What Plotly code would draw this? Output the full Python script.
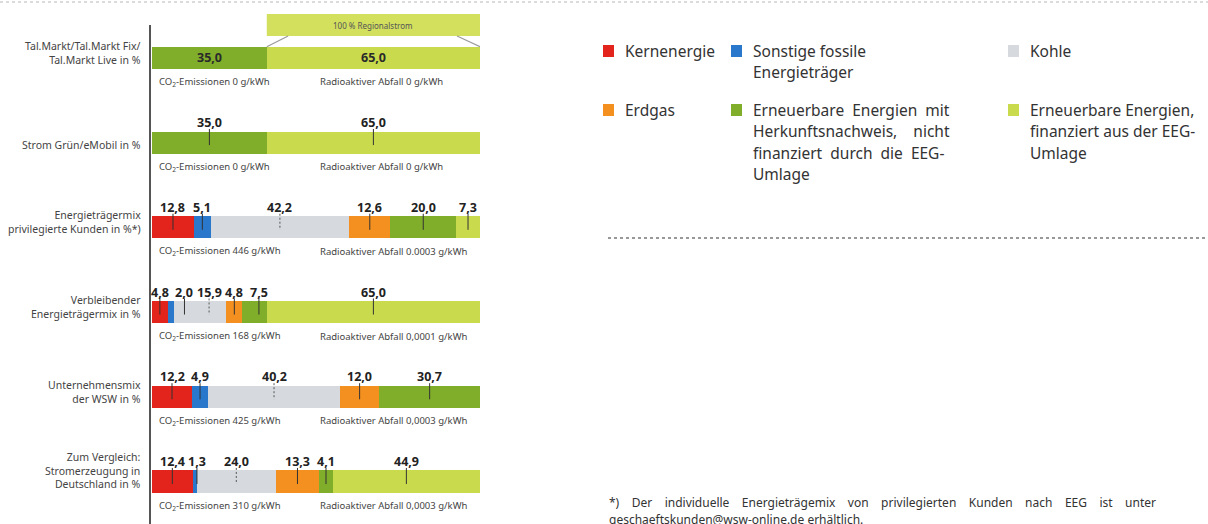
import plotly.graph_objects as go

W, H = 1208, 524

# ---------------- data ----------------
rows = [
    "Tal.Markt/Tal.Markt Fix/<br>Tal.Markt Live in %",
    "Strom Grün/eMobil in %",
    "Energieträgermix<br>privilegierte Kunden in %*)",
    "Verbleibender<br>Energieträgermix in %",
    "Unternehmensmix<br>der WSW in %",
    "Zum Vergleich:<br>Stromerzeugung in<br>Deutschland in %",
]
series = [
    "Kernenergie",
    "Sonstige fossile Energieträger",
    "Kohle",
    "Erdgas",
    "Erneuerbare Energien mit Herkunftsnachweis, nicht finanziert durch die EEG-Umlage",
    "Erneuerbare Energien, finanziert aus der EEG-Umlage",
]
kern   = [0, 0, 12.8, 4.8, 12.2, 12.4]
fossil = [0, 0, 5.1, 2.0, 4.9, 1.3]
kohle  = [0, 0, 42.2, 15.9, 40.2, 24.0]
erdgas = [0, 0, 12.6, 4.8, 12.0, 13.3]
ee_hkn = [35.0, 35.0, 20.0, 7.5, 30.7, 4.1]
ee_eeg = [65.0, 65.0, 7.3, 65.0, 0, 44.9]
co2    = [0, 0, 446, 168, 425, 310]
abfall = ["0", "0", "0.0003", "0,0001", "0,0003", "0,0003"]
bracket_text = "100 % Regionalstrom"

legend_lines = [
    ["Kernenergie"],
    ["Sonstige fossile", "Energieträger"],
    ["Kohle"],
    ["Erdgas"],
    ["Erneuerbare\u00a0\u00a0Energien\u00a0\u00a0mit", "Herkunftsnachweis,\u00a0\u00a0\u00a0\u00a0nicht",
     "finanziert\u00a0\u00a0durch\u00a0\u00a0die\u00a0\u00a0EEG-", "Umlage"],
    ["Erneuerbare Energien,", "finanziert aus der EEG-", "Umlage"],
]
footnote = ["*) Der individuelle Energieträgemix von privilegierten Kunden nach EEG ist unter",
            "geschaeftskunden@wsw-online.de erhältlich."]

colors = ["#e3241c", "#2a78cc", "#d6dade", "#f4901f", "#80ad2a", "#c9db4c"]
values = [kern, fossil, kohle, erdgas, ee_hkn, ee_eeg]

FONT = "Noto Sans"
ypos = [-i for i in range(len(rows))]
BW = 0.26

def px(x):
    return x / W

def py(y):
    return 1 - y / H

fig = go.Figure()
for name, vals, col in zip(series, values, colors):
    fig.add_trace(go.Bar(
        x=vals, y=ypos, orientation="h", width=BW, name=name,
        marker=dict(color=col, line=dict(width=0)),
        showlegend=False, hoverinfo="x+name",
    ))

annotations = []
shapes = []

# row labels (last line roughly level with the bar)
for i, lab in enumerate(rows):
    annotations.append(dict(
        x=px(143), xref="paper", y=ypos[i], yref="y", text=lab,
        xanchor="right", yanchor="bottom", align="right", showarrow=False,
        font=dict(family=FONT, size=10.5, color="#444"), yshift=-11,
    ))
    annotations.append(dict(
        x=1.5, xref="x", y=ypos[i], yref="y",
        text="CO<sub>2</sub>-Emissionen %d g/kWh" % co2[i],
        xanchor="left", yanchor="middle", showarrow=False, yshift=-24,
        font=dict(family=FONT, size=9.5, color="#444"),
    ))
    annotations.append(dict(
        x=50.5, xref="x", y=ypos[i], yref="y",
        text="Radioaktiver Abfall %s g/kWh" % abfall[i],
        xanchor="left", yanchor="middle", showarrow=False, yshift=-24,
        font=dict(family=FONT, size=9.5, color="#444"),
    ))

def spread(centers, gap=7.5):
    out = []
    for c in centers:
        if out and c - out[-1] < gap:
            c = out[-1] + gap
        out.append(c)
    return out

tick_x, tick_y, dash_x, dash_y = [], [], [], []
for i in range(len(rows)):
    segs = []
    cum = 0.0
    for k, vals in enumerate(values):
        v = vals[i]
        if v > 0:
            segs.append((k, v, cum + v / 2))
        cum += v
    lx = spread([s[2] for s in segs])
    for (k, v, c), x in zip(segs, lx):
        txt = ("%.1f" % v).replace(".", ",")
        if i == 0:
            annotations.append(dict(
                x=c, xref="x", y=ypos[i], yref="y", text="<b>%s</b>" % txt,
                showarrow=False, font=dict(family=FONT, size=12.5, color="#2a2a2a"),
            ))
        else:
            annotations.append(dict(
                x=x, xref="x", y=ypos[i], yref="y", text="<b>%s</b>" % txt,
                showarrow=False, yshift=20,
                font=dict(family=FONT, size=12.5, color="#222"),
            ))
            if k == 2:
                dash_x += [x, x, None]
                dash_y += [ypos[i] + 0.16, ypos[i] - 0.03, None]
            else:
                tick_x += [x, x, None]
                tick_y += [ypos[i] + 0.16, ypos[i] - 0.03, None]

fig.add_trace(go.Scatter(x=tick_x, y=tick_y, mode="lines", line=dict(color="#333", width=1),
                         showlegend=False, hoverinfo="skip"))
fig.add_trace(go.Scatter(x=dash_x, y=dash_y, mode="lines", line=dict(color="#555", width=1, dash="2px,2px"),
                         showlegend=False, hoverinfo="skip"))

# bracket for row 0 (EEG part)
bx0 = ee_hkn[0]
bx1 = ee_hkn[0] + ee_eeg[0]
shapes.append(dict(type="rect", xref="x", yref="y", x0=bx0, x1=bx1, y0=0.257, y1=0.517,
                   fillcolor="#d2e05e", line=dict(width=0), layer="below"))
shapes.append(dict(type="line", xref="x", yref="y", x0=bx0 + 6.5, x1=bx0, y0=0.257, y1=BW / 2,
                   line=dict(color="#9a9a9a", width=1.2)))
shapes.append(dict(type="line", xref="x", yref="y", x0=bx1 - 7, x1=bx1, y0=0.257, y1=BW / 2,
                   line=dict(color="#9a9a9a", width=1.2)))
annotations.append(dict(x=(bx0 + bx1) / 2, xref="x", y=0.387, yref="y", text=bracket_text,
                        showarrow=False, font=dict(family=FONT, size=8, color="#555")))

# vertical axis line
shapes.append(dict(type="line", xref="paper", yref="paper", x0=px(150), x1=px(150),
                   y0=py(25), y1=py(524), line=dict(color="#555", width=2)))

# legend
leg_pos = [(603, 51), (731, 51), (1008, 51), (603, 110), (731, 110), (1008, 110)]
for (lx, ly), lines, col in zip(leg_pos, legend_lines, colors):
    shapes.append(dict(type="rect", xref="paper", yref="paper",
                       x0=px(lx), x1=px(lx + 11), y0=py(ly - 6), y1=py(ly + 6),
                       fillcolor=col, line=dict(width=0)))
    for j, t in enumerate(lines):
        annotations.append(dict(
            x=px(lx + 20), xref="paper", y=py(ly + j * 21.3), yref="paper", text=t,
            xanchor="left", yanchor="middle", showarrow=False,
            font=dict(family=FONT, size=15.5, color="#333"),
        ))

# dotted separator
shapes.append(dict(type="line", xref="paper", yref="paper", x0=px(608), x1=px(1208),
                   y0=py(238), y1=py(238), line=dict(color="#777", width=1.5, dash="dot")))
# top dotted scan border
shapes.append(dict(type="line", xref="paper", yref="paper", x0=0, x1=1,
                   y0=py(2), y1=py(2), line=dict(color="#cfcfcf", width=1.5, dash="dot")))

# footnote (first line justified with extra spaces)
foot_lines = [(" " + "\u00a0" * 3).join(footnote[0].split(" ")), footnote[1]]
for j, t in enumerate(foot_lines):
    annotations.append(dict(
        x=px(607), xref="paper", y=py(502 + j * 17), yref="paper", text=t,
        xanchor="left", yanchor="middle", showarrow=False,
        font=dict(family=FONT, size=12, color="#333"),
    ))

# y mapping: row 0 centre at 57.8 px, spacing 84.74 px
top = 57.8 / 84.74
bot = -(H - 57.8) / 84.74
fig.update_layout(
    width=W, height=H, margin=dict(l=0, r=0, t=0, b=0),
    paper_bgcolor="white", plot_bgcolor="white",
    barmode="stack",
    xaxis=dict(domain=[px(152), px(480)], range=[0, 100], visible=False, fixedrange=True),
    yaxis=dict(range=[bot, top], visible=False, fixedrange=True),
    annotations=annotations, shapes=shapes,
    font=dict(family=FONT),
)
fig.write_html("out.html", config={"displayModeBar": False},
               post_script="document.body.style.margin='0';document.body.style.overflow='hidden';")
